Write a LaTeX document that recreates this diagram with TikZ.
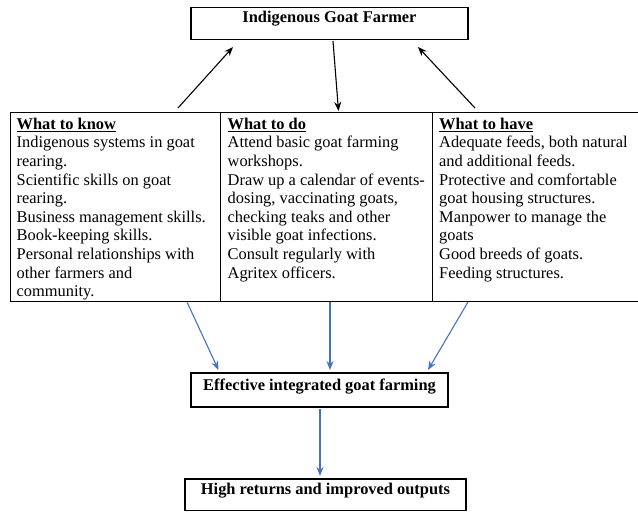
\documentclass[tikz,border=0pt]{standalone}
\usepackage{fontspec}
\setmainfont{Liberation Serif}
\usetikzlibrary{arrows.meta}
\definecolor{arrowblue}{RGB}{68,114,196}
\tikzset{
  box/.style={draw=black, line width=1.3pt, inner xsep=0pt, inner ysep=3pt, align=center,
              font=\fontsize{16.4}{18.3}\selectfont\bfseries},
  col/.style={draw=black, line width=1.4pt, anchor=north west, inner sep=0pt},
  coltext/.style={anchor=north west, inner sep=0pt, align=left,
                  font=\fontsize{16.4}{18.65}\selectfont},
  blackarrow/.style={line width=1.1pt, -{Stealth[length=9pt,width=7pt]}},
  bluearrow/.style={draw=arrowblue, line width=1.1pt, -{Stealth[length=9pt,width=7pt]}, arrowblue}
}
\begin{document}
\begin{tikzpicture}[x=1pt,y=-1pt]
\useasboundingbox (0,0) rectangle (638,512);
% top box
\node[box, minimum width=277pt, text height=12pt, text depth=14pt, anchor=base] (farmer) at (329.5,22.5) {Indigenous Goat Farmer};
% table columns
\node[col, minimum width=210pt, minimum height=189pt] (knowbox) at (10,112) {};
\node[col, minimum width=212pt, minimum height=189pt] (dobox) at (220,112) {};
\node[col, minimum width=205.5pt, minimum height=189pt] (havebox) at (432,112) {};
\node[coltext] (knowtext) at (16.5,117.5) {\textbf{\underline{What to know}}\\
Indigenous systems in goat\\
rearing.\\
Scientific skills on goat\\
rearing.\\
Business management skills.\\
Book-keeping skills.\\
Personal relationships with\\
other farmers and\\
community.};
\node[coltext] (dotext) at (227.5,117.5) {\textbf{\underline{What to do}}\\
Attend basic goat farming\\
workshops.\\
Draw up a calendar of events-\\
dosing, vaccinating goats,\\
checking teaks and other\\
visible goat infections.\\
Consult regularly with\\
Agritex officers.};
\node[coltext] (havetext) at (439,117.5) {\textbf{\underline{What to have}}\\
Adequate feeds, both natural\\
and additional feeds.\\
Protective and comfortable\\
goat housing structures.\\
Manpower to manage the\\
goats\\
Good breeds of goats.\\
Feeding structures.};
% middle and bottom boxes
\node[box, minimum width=257pt, text height=14pt, text depth=14pt, anchor=base] (effective) at (319.5,390) {Effective integrated goat farming};
\node[box, minimum width=281pt, text height=12pt, text depth=13.5pt, anchor=base] (returns) at (325.5,494) {High returns and improved outputs};
% connector ends
\coordinate (k1) at (178,108);
\coordinate (k2) at (233,47);
\coordinate (d1) at (333,41);
\coordinate (d2) at (338.5,111);
\coordinate (h1) at (475,108);
\coordinate (h2) at (418,47);
\coordinate (bk1) at (187,302);
\coordinate (bk2) at (218.5,370);
\coordinate (bd1) at (330,302);
\coordinate (bd2) at (330,370);
\coordinate (bh1) at (468,302);
\coordinate (bh2) at (428,370);
\coordinate (e1) at (320,409);
\coordinate (e2) at (320,476);
% black arrows
\draw[blackarrow] (k1) -- (k2);
\draw[blackarrow] (d1) -- (d2);
\draw[blackarrow] (h1) -- (h2);
% blue arrows
\draw[bluearrow] (bk1) -- (bk2);
\draw[bluearrow] (bd1) -- (bd2);
\draw[bluearrow] (bh1) -- (bh2);
\draw[bluearrow] (e1) -- (e2);
\end{tikzpicture}
\end{document}
